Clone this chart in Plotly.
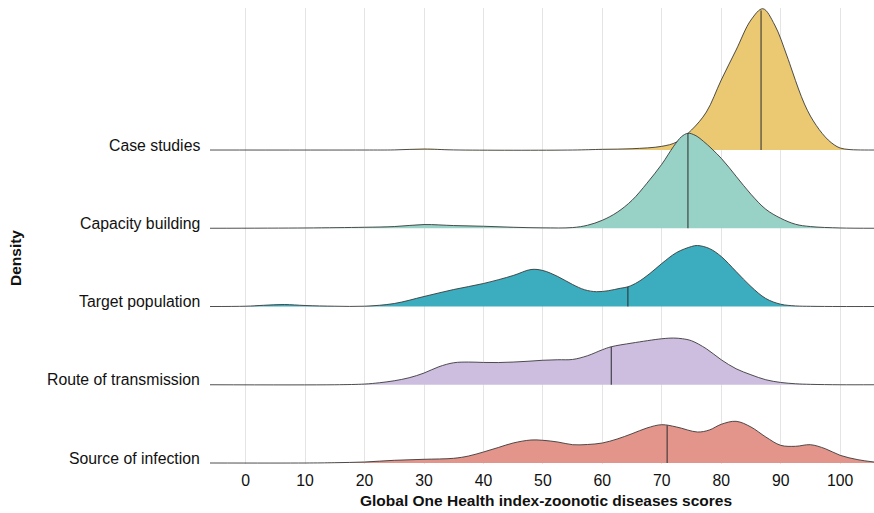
import numpy as np
import plotly.graph_objects as go

# Ridge categories, top to bottom
categories = ["Case studies", "Capacity building", "Target population",
              "Route of transmission", "Source of infection"]
colors = ["#EAC972", "#98D2C6", "#3BADBF", "#CDBEE0", "#E4958B"]

# Median score per category
medians = [86.7, 74.4, 64.3, 61.5, 70.9]

# Smoothed density per category (score, scaled density)
case_x = [-6, 20, 25, 30, 35, 55, 60, 65, 70, 72.5, 75, 77.5, 80, 82.5, 85, 87,
          89, 91, 92, 93, 94, 95, 96, 97, 98, 99, 100, 101.5, 103, 105.7]
case_d = [0, 0, 0.001, 0.010, 0.001, 0, 0.007, 0.013, 0.037, 0.08, 0.20, 0.38,
          0.70, 1.00, 1.30, 1.413, 1.25, 0.95, 0.78, 0.61, 0.46, 0.34, 0.245,
          0.165, 0.10, 0.052, 0.02, 0.005, 0.001, 0]

cap_x = [-6, 10, 20, 25, 30, 35, 40, 45, 50, 55, 57.5, 60, 62.5, 65, 67.5, 70,
         72, 73.3, 74.4, 75.6, 77, 80, 82.5, 85, 87.5, 90, 92.5, 95, 100, 105.7]
cap_d = [0, 0.003, 0.01, 0.017, 0.037, 0.027, 0.02, 0.01, 0.004, 0.007, 0.03, 0.08,
         0.16, 0.28, 0.45, 0.64, 0.82, 0.915, 0.95, 0.93, 0.87, 0.70, 0.52, 0.34,
         0.19, 0.10, 0.04, 0.017, 0.003, 0]

tgt_x = [-6, 0, 3, 6.5, 10, 15, 20, 25, 30, 35, 40, 45, 48, 50, 52.5, 55, 57,
         59, 61, 63, 64.3, 66, 68, 70, 72.5, 75, 76, 78, 80, 82.5, 85, 87.5, 90,
         92.5, 95, 100, 105.7]
tgt_d = [0, 0.003, 0.012, 0.02, 0.01, 0.003, 0.003, 0.03, 0.10, 0.17, 0.23, 0.31,
         0.37, 0.36, 0.30, 0.22, 0.168, 0.148, 0.158, 0.182, 0.197, 0.245, 0.33,
         0.43, 0.54, 0.60, 0.61, 0.58, 0.50, 0.35, 0.20, 0.08, 0.023, 0.006,
         0.002, 0, 0]

route_x = [-6, 15, 20, 22.5, 25, 27.5, 30, 32.5, 35, 37.5, 40, 42.5, 45, 47.5,
           50, 52.5, 55, 57.5, 60, 61.5, 65, 70, 72, 73.5, 75, 77.5, 80, 82.5,
           85, 87.5, 90, 92.5, 95, 100, 105.7]
route_d = [0, 0, 0.007, 0.02, 0.04, 0.07, 0.117, 0.18, 0.22, 0.227, 0.223, 0.222,
           0.227, 0.235, 0.245, 0.25, 0.253, 0.29, 0.35, 0.38, 0.417, 0.46,
           0.467, 0.46, 0.44, 0.36, 0.25, 0.16, 0.10, 0.05, 0.023, 0.01,
           0.004, 0, 0]

src_x = [-6, 10, 15, 20, 25, 30, 35, 37.5, 40, 42.5, 45, 48, 50, 52.5, 55, 57.5,
         60, 62.5, 65, 67.5, 70, 72.5, 76, 78, 80, 82.5, 85, 87.5, 90, 92.5, 95,
         97.5, 100, 103, 105.7]
src_d = [0, 0, 0.003, 0.01, 0.027, 0.037, 0.047, 0.07, 0.11, 0.155, 0.20, 0.23,
         0.227, 0.21, 0.183, 0.185, 0.20, 0.24, 0.293, 0.35, 0.383, 0.36, 0.31,
         0.33, 0.387, 0.417, 0.36, 0.26, 0.177, 0.167, 0.183, 0.143, 0.077,
         0.033, 0.01]

series_x = [case_x, cap_x, tgt_x, route_x, src_x]
series_d = [case_d, cap_d, tgt_d, route_d, src_d]

x_ticks = [0, 10, 20, 30, 40, 50, 60, 70, 80, 90, 100]

SCALE = 100 / 78.25      # density units -> ridge spacing
n = len(categories)
line_col = "#3a3a3a"
text_col = "#111111"
font_family = "Liberation Sans, Arial, sans-serif"

fig = go.Figure()
annotations = []
for i, (name, col) in enumerate(zip(categories, colors)):
    base = n - 1 - i
    xs = np.array(series_x[i], dtype=float)
    ds = np.array(series_d[i], dtype=float)
    ys = base + ds * SCALE
    fig.add_trace(go.Scatter(x=xs, y=np.full_like(xs, base), mode="lines",
                             line=dict(width=0, color=col), hoverinfo="skip"))
    fig.add_trace(go.Scatter(x=xs, y=ys, mode="lines", fill="tonexty",
                             fillcolor=col,
                             line=dict(color=line_col, width=0.9, shape="spline",
                                       smoothing=1.0),
                             hoverinfo="skip"))
    m = medians[i]
    mh = base + np.interp(m, xs, ds) * SCALE
    fig.add_trace(go.Scatter(x=[m, m], y=[base, mh], mode="lines",
                             line=dict(color="#2b2b2b", width=1),
                             hoverinfo="skip"))
    # category label sitting just above its ridge baseline
    annotations.append(dict(text=name, xref="paper", yref="y", x=0, y=base,
                            xanchor="right", yanchor="middle", xshift=-8,
                            yshift=5, showarrow=False,
                            font=dict(size=15.8, color=text_col)))

annotations += [
    dict(text="<b>Global One Health index-zoonotic diseases scores</b>",
         xref="paper", yref="paper", x=(546 - 210) / 664, y=-(500 - 464) / 456,
         xanchor="center", yanchor="middle", showarrow=False,
         font=dict(size=15.5, color=text_col)),
    dict(text="<b>Density</b>", xref="paper", yref="paper",
         x=(15 - 210) / 664, y=(464 - 258) / 456, textangle=-90,
         xanchor="center", yanchor="middle", showarrow=False,
         font=dict(size=15.5, color=text_col)),
]

fig.update_layout(
    width=874, height=513,
    margin=dict(l=210, r=0, t=8, b=49),
    plot_bgcolor="white", paper_bgcolor="white",
    showlegend=False, hovermode=False,
    font=dict(family=font_family, size=15.8, color=text_col),
    xaxis=dict(range=[-6, 105.7], tickvals=x_ticks,
               ticktext=[str(v) for v in x_ticks],
               showgrid=True, gridcolor="#e4e4e4", gridwidth=1,
               zeroline=False, showline=False, ticks="",
               ticklabelstandoff=5,
               tickfont=dict(size=15.8, color=text_col)),
    yaxis=dict(range=[-0.0128, 5.815], showticklabels=False,
               showgrid=False, zeroline=False, showline=False, ticks=""),
    annotations=annotations,
)

fig.write_html("out.html")
